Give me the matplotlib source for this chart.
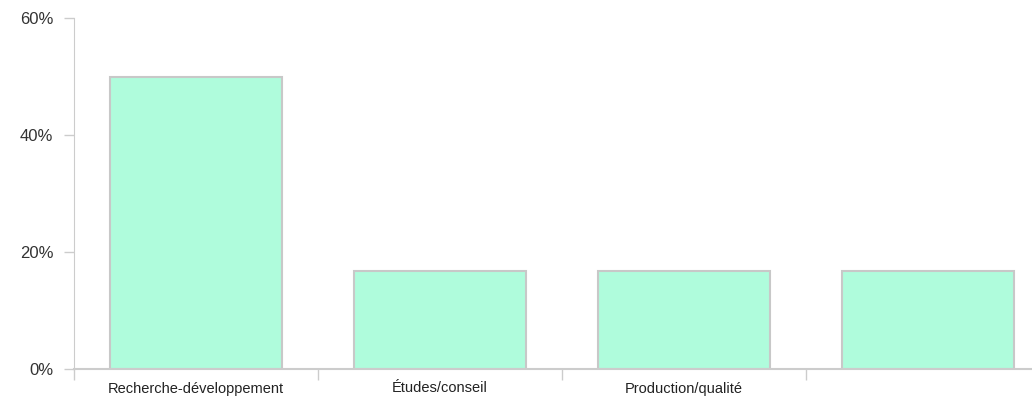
import numpy as np
import matplotlib.pyplot as plt
from matplotlib.ticker import FuncFormatter

plt.rcParams['font.family'] = ['Liberation Sans', 'DejaVu Sans']

# data
categories = ["Recherche-développement", "Études/conseil", "Production/qualité", ""]
shares = [50.0, 16.67, 16.67, 16.67]
y_ticks = [0, 20, 40, 60]

fig = plt.figure(figsize=(10.32, 4), dpi=100)
# axes reaches past right edge, like the original (last band is cut)
ax = fig.add_axes([74/1032, 31/400, (1050-74)/1032, (369-18)/400])

x = np.arange(len(categories))
ax.bar(x, shares, width=0.705, color="#affcdc", edgecolor="#c8c8c8", linewidth=1.5, zorder=2)

ax.set_xlim(-0.5, len(categories) - 0.5)
ax.set_ylim(0, 60)

# y axis
ax.set_yticks(y_ticks)
ax.yaxis.set_major_formatter(FuncFormatter(lambda v, p: "%d%%" % v))
ax.tick_params(axis="y", length=7, width=1, color="#cccccc", pad=8,
               labelsize=12, labelcolor="#333333")

# x axis: labels at centers, tick marks on band edges
ax.set_xticks(x)
ax.set_xticklabels(categories)
ax.set_xticks(np.arange(len(categories)) - 0.5, minor=True)
ax.tick_params(axis="x", which="major", length=0, pad=9, labelsize=10.5, labelcolor="#222222")
ax.tick_params(axis="x", which="minor", length=8, width=1, color="#cccccc")

for s in ["top", "right"]:
    ax.spines[s].set_visible(False)
ax.spines["left"].set_color("#cccccc")
ax.spines["bottom"].set_color("#cccccc")
ax.spines["bottom"].set_linewidth(1.5)

fig.savefig("out.png", dpi=100)
